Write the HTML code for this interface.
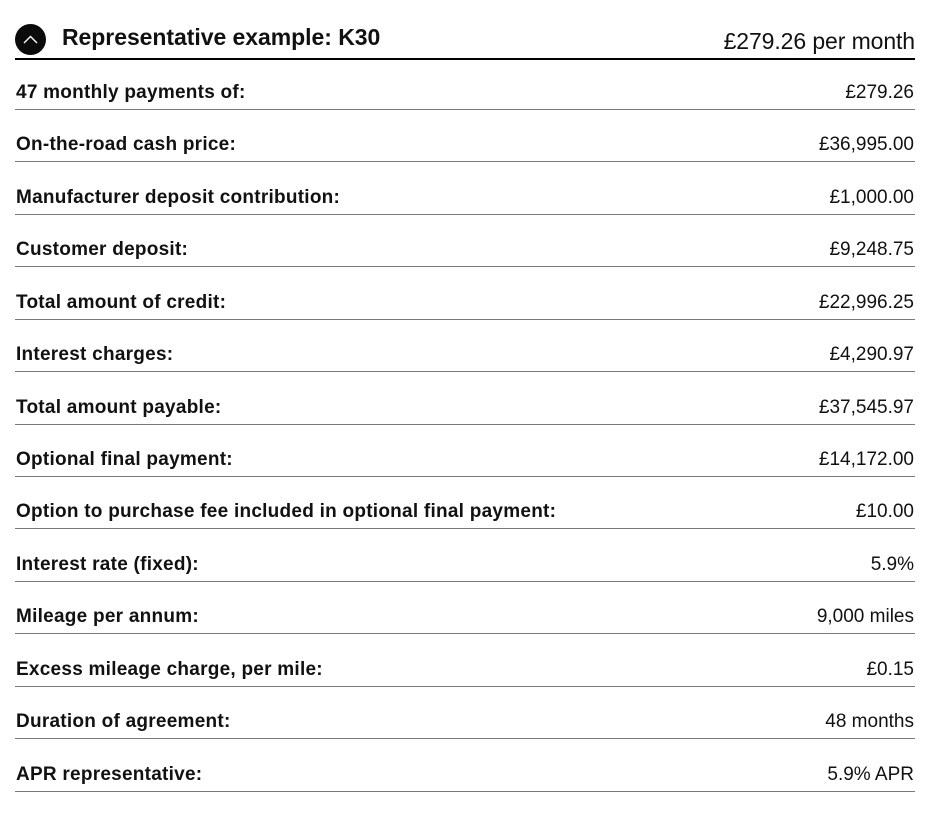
<!DOCTYPE html>
<html><head><meta charset="utf-8"><style>
html,body{margin:0;padding:0;background:#fff;width:932px;height:815px;overflow:hidden;font-family:"Liberation Sans",sans-serif;color:#111;}
.circle{position:absolute;left:15px;top:24px;width:31px;height:31px;border-radius:50%;background:#0b0b0b;}
.title{position:absolute;left:62px;top:24px;font-size:23px;font-weight:bold;letter-spacing:-0.05px;}
.price{position:absolute;right:17px;top:28px;font-size:23px;letter-spacing:-0.1px;}
.thick{position:absolute;left:15px;top:58px;width:900px;height:2px;background:#000;}
.row{position:absolute;left:15px;width:900px;height:52px;border-bottom:1px solid #7a7a7a;box-sizing:border-box;}
.row .l{position:absolute;left:1px;bottom:5px;font-size:19px;font-weight:bold;letter-spacing:0.25px;}
.row .r{position:absolute;right:1px;bottom:5px;font-size:19px;letter-spacing:0px;}
</style></head><body>
<div class="circle"><svg width="31" height="31" viewBox="0 0 31 31"><polyline points="9,19 15.5,12.5 22,19" fill="none" stroke="#fff" stroke-width="1.4"/></svg></div>
<div class="title">Representative example: K30</div>
<div class="price">£279.26 per month</div>
<div class="thick"></div>
<div class="row" style="top:58px"><span class="l">47 monthly payments of:</span><span class="r">£279.26</span></div>
<div class="row" style="top:110px"><span class="l">On-the-road cash price:</span><span class="r">£36,995.00</span></div>
<div class="row" style="top:163px"><span class="l">Manufacturer deposit contribution:</span><span class="r">£1,000.00</span></div>
<div class="row" style="top:215px"><span class="l">Customer deposit:</span><span class="r">£9,248.75</span></div>
<div class="row" style="top:268px"><span class="l">Total amount of credit:</span><span class="r">£22,996.25</span></div>
<div class="row" style="top:320px"><span class="l">Interest charges:</span><span class="r">£4,290.97</span></div>
<div class="row" style="top:373px"><span class="l">Total amount payable:</span><span class="r">£37,545.97</span></div>
<div class="row" style="top:425px"><span class="l">Optional final payment:</span><span class="r">£14,172.00</span></div>
<div class="row" style="top:477px"><span class="l">Option to purchase fee included in optional final payment:</span><span class="r">£10.00</span></div>
<div class="row" style="top:530px"><span class="l">Interest rate (fixed):</span><span class="r">5.9%</span></div>
<div class="row" style="top:582px"><span class="l">Mileage per annum:</span><span class="r">9,000 miles</span></div>
<div class="row" style="top:635px"><span class="l">Excess mileage charge, per mile:</span><span class="r">£0.15</span></div>
<div class="row" style="top:687px"><span class="l">Duration of agreement:</span><span class="r">48 months</span></div>
<div class="row" style="top:740px"><span class="l">APR representative:</span><span class="r">5.9% APR</span></div>
</body></html>
